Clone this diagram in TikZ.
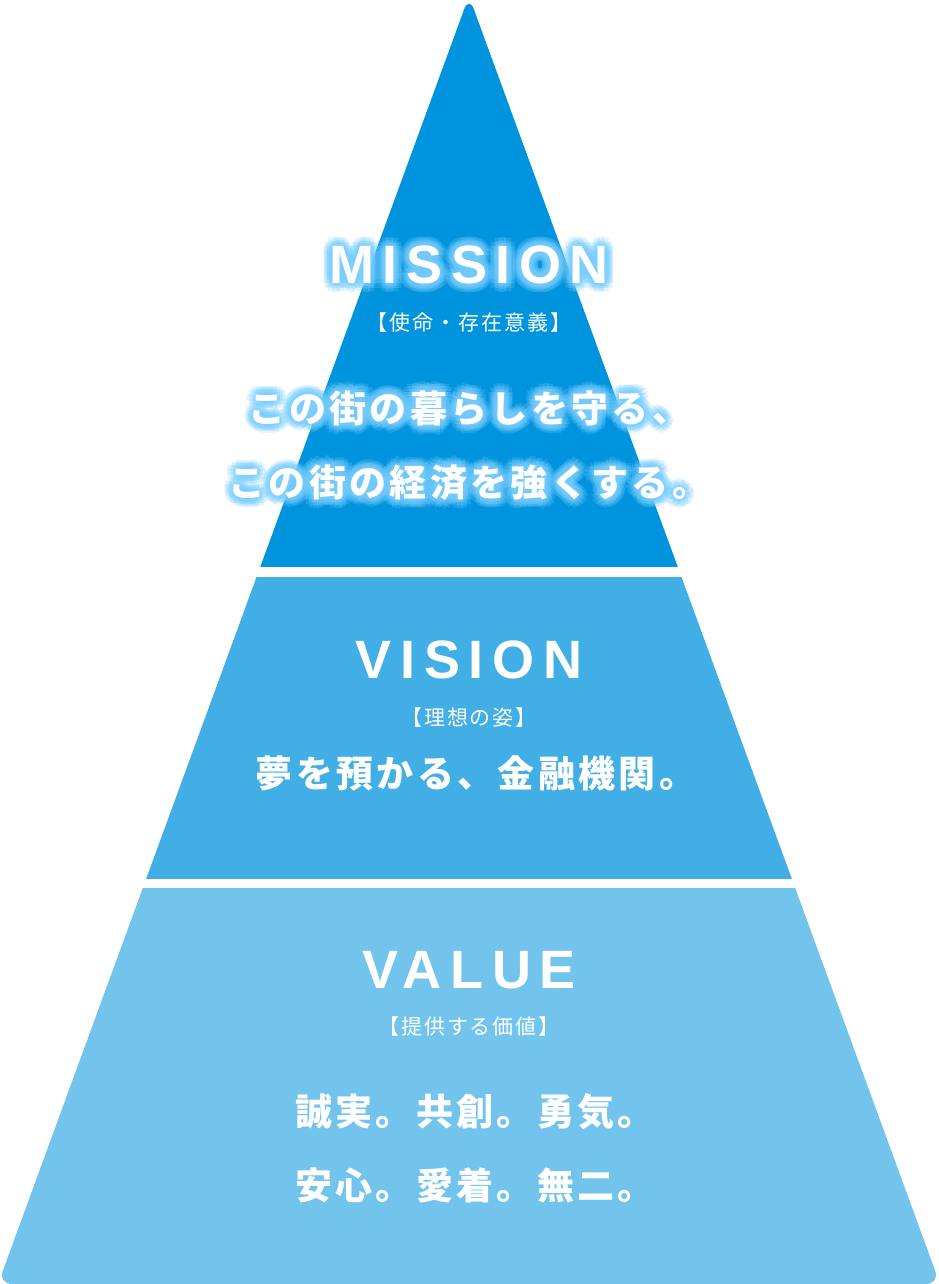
\documentclass[tikz,border=0pt]{standalone}
\usepackage{fontspec}
\newfontfamily\headfont[LetterSpace=16]{Liberation Sans}
\newfontfamily\jpfont[LetterSpace=9]{Noto Sans CJK JP}
\definecolor{missionblue}{RGB}{0,148,222}
\definecolor{visionblue}{RGB}{65,174,230}
\definecolor{valueblue}{RGB}{114,196,237}
\definecolor{glowblue}{RGB}{120,205,255}
\tikzset{
  head/.style={text=white, font=\headfont\bfseries\fontsize{54}{54}\selectfont},
  sub/.style={text=white, font=\jpfont\fontsize{21}{21}\selectfont},
  body/.style={text=white, font=\jpfont\bfseries\fontsize{37}{37}\selectfont},
  halo/.style={text=glowblue, text opacity=0.22}
}
\newcommand\glowtext[4]{%
  \foreach \ang in {0,30,...,330}
    \foreach \rad in {3,6,9}
      \node[#1, halo] at ([shift={(\ang:\rad)}]#2) {#4};
  \node[#1] (#3) at (#2) {#4};}
\begin{document}
\begin{tikzpicture}[x=1pt,y=-1pt]
  \useasboundingbox (0,0) rectangle (938,1284);
  \begin{scope}
    \clip[rounded corners=14] (469,-4) -- (940,1284) -- (-2,1284) -- cycle;
    \fill[missionblue] (0,0) rectangle (938,567);
    \fill[visionblue] (0,577) rectangle (938,879);
    \fill[valueblue] (0,888) rectangle (938,1284);
  \end{scope}
  % mission
  \glowtext{head}{469,265}{mission}{MISSION}
  \node[sub] (missionsub) at (469,323) {【使命・存在意義】};
  \glowtext{body}{469,408}{missionone}{この街の暮らしを守る、}
  \glowtext{body}{469,483}{missiontwo}{この街の経済を強くする。}
  % vision
  \node[head] (vision) at (469,660) {VISION};
  \node[sub] (visionsub) at (469,718) {【理想の姿】};
  \node[body] (visionone) at (476,773) {夢を預かる、金融機関。};
  % value
  \node[head] (value) at (469,970) {VALUE};
  \node[sub] (valuesub) at (469,1027) {【提供する価値】};
  \node[body] (valueone) at (475,1112) {誠実。共創。勇気。};
  \node[body] (valuetwo) at (475,1185) {安心。愛着。無二。};
\end{tikzpicture}
\end{document}
